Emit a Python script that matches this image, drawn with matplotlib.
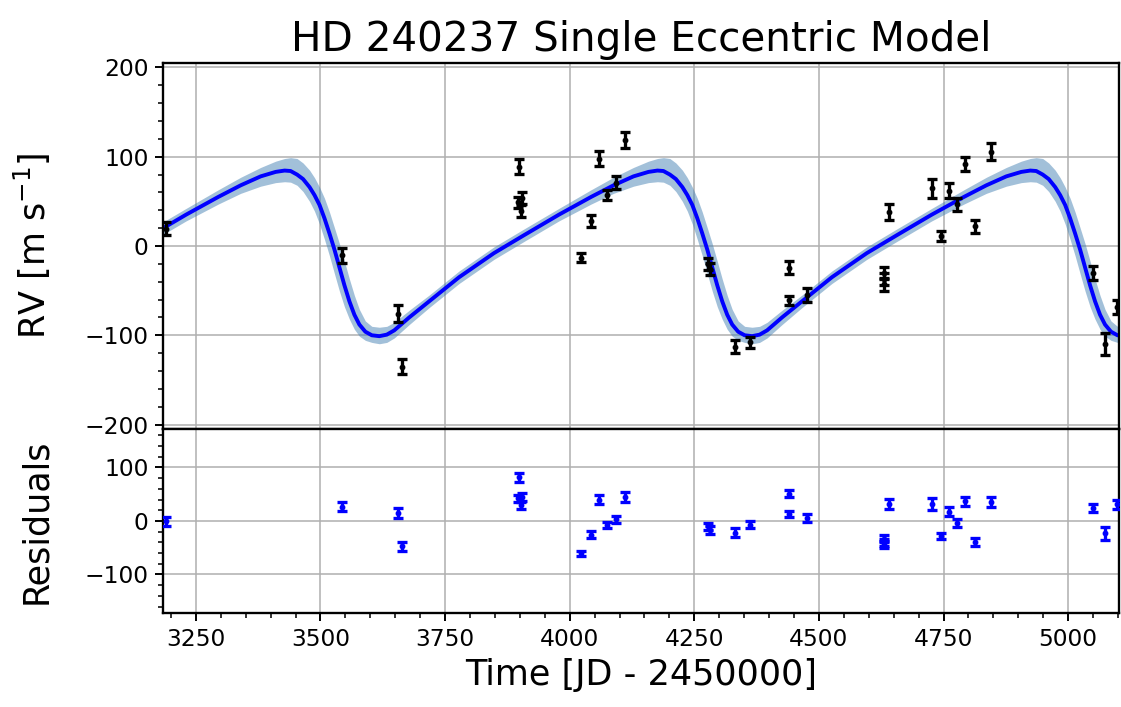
import matplotlib
matplotlib.use("Agg")
import matplotlib.pyplot as plt
from matplotlib.ticker import MultipleLocator, AutoMinorLocator

# model curve (time, rv) plus the shaded band edges
model_t = [3160, 3230, 3295, 3340, 3380, 3410,
           3428, 3440, 3453, 3465, 3478, 3488, 3498, 3508, 3518, 3528, 3538, 3548, 3558, 3568, 3578,
           3590, 3603, 3618, 3633, 3648, 3678, 3718, 3778, 3848, 3908, 3978, 4043, 4088, 4128, 4158,
           4176, 4188, 4201, 4213, 4226, 4236, 4246, 4256, 4266, 4276, 4286, 4296, 4306, 4316, 4326,
           4338, 4351, 4366, 4381, 4396, 4426, 4466, 4526, 4596, 4656, 4726, 4791, 4836, 4876, 4906,
           4924, 4936, 4949, 4961, 4974, 4984, 4994, 5004, 5014, 5024, 5034, 5044, 5054, 5064, 5074,
           5086, 5099, 5114]
model_rv = [12, 35, 55, 68, 78, 83,
            84.5, 84, 80, 75, 66, 57, 46, 31, 14, -4, -24, -44, -62, -77, -88,
            -96, -100, -101, -99.3, -94.5, -80, -62, -35, -8, 12, 35, 55, 68, 78, 83,
            84.5, 84, 80, 75, 66, 57, 46, 31, 14, -4, -24, -44, -62, -77, -88,
            -96, -100, -101, -99.3, -94.5, -80, -62, -35, -8, 12, 35, 55, 68, 78, 83,
            84.5, 84, 80, 75, 66, 57, 46, 31, 14, -4, -24, -44, -62, -77, -88,
            -96, -100, -101]
band_hi = [19, 42, 63, 77, 88, 95,
           98, 99, 98, 93, 85, 76.5, 66, 53.5, 38, 20.4, 2.6, -17, -37, -55.4, -71,
           -84, -90, -91, -90, -85.5, -72, -55, -28, -1, 19, 42, 63, 77, 88, 95,
           98, 99, 98, 93, 85, 76.5, 66, 53.5, 38, 20.4, 2.6, -17, -37, -55.4, -71,
           -84, -90, -91, -90, -85.5, -72, -55, -28, -1, 19, 42, 63, 77, 88, 95,
           98, 99, 98, 93, 85, 76.5, 66, 53.5, 38, 20.4, 2.6, -17, -37, -55.4, -71,
           -84, -90, -91]
band_lo = [5, 28, 47, 59, 67, 71,
           72, 71.5, 68, 61, 50, 39, 24.6, 7.4, -11, -31, -50.6, -68, -82, -93.3, -101,
           -105.7, -108, -109.5, -108, -103, -88, -69, -42, -15, 5, 28, 47, 59, 67, 71,
           72, 71.5, 68, 61, 50, 39, 24.6, 7.4, -11, -31, -50.6, -68, -82, -93.3, -101,
           -105.7, -108, -109.5, -108, -103, -88, -69, -42, -15, 5, 28, 47, 59, 67, 71,
           72, 71.5, 68, 61, 50, 39, 24.6, 7.4, -11, -31, -50.6, -68, -82, -93.3, -101,
           -105.7, -108, -109.5]

# observations
obs_t = [3190, 3544, 3655, 3664, 3898, 3897, 3905, 3903, 4022, 4042, 4058, 4075.6, 4093, 4111,
         4278, 4281, 4332, 4361.7, 4439, 4440.6, 4475.5, 4630, 4631, 4630.5, 4640, 4726.6, 4744,
         4760, 4778, 4793, 4813, 4844.8, 5049.5, 5074, 5097.7]
obs_rv = [19.6, -10.4, -76, -135, 88.8, 49, 54, 39, -13, 27.8, 98, 57, 71, 118.8,
          -20, -26, -112.7, -107.8, -24.3, -61, -54.6, -30, -37, -43, 38.2, 64.5, 11,
          62, 46.5, 91.8, 22, 105.6, -30, -109.7, -68.5]
obs_err = [7.5, 8.4, 9.4, 8.4, 8.4, 6, 7, 7, 4.7, 6.5, 8.6, 6, 7, 9,
           7, 7, 7.5, 6.4, 7, 5.4, 7.7, 7, 7, 7, 9, 11, 5.6,
           8.2, 7.5, 8, 7.5, 9.4, 8, 12.4, 8.2]
resid = [-1, 26.5, 15.4, -47.5, 82, 42, 45, 29, -60.5, -26, 40, -7.4, 3, 45,
         -10, -17, -21.6, -7.4, 51, 13.5, 5, -33, -40, -44, 32, 31, -28,
         17, -4.3, 36.5, -39, 35.7, 24.6, -22.8, 31]


def style_axis(ax):
    ax.grid(True, color="#b0b0b0", linewidth=0.8)
    ax.set_axisbelow(True)
    ax.yaxis.set_minor_locator(AutoMinorLocator())
    ax.tick_params(which="major", labelsize=12, length=4, width=1)
    ax.tick_params(which="minor", length=2.5, width=0.8)
    for s in ax.spines.values():
        s.set_linewidth(1.2)


def make_plot():
    fig = plt.figure(figsize=(1121 / 140, 707 / 140), dpi=140)
    ax1 = fig.add_axes([0.1454, 0.3932, 0.8528, 0.5177])
    ax2 = fig.add_axes([0.1454, 0.1330, 0.8528, 0.2603], sharex=ax1)

    ebar = dict(ms=4, elinewidth=1.7, capsize=2.8, capthick=1.7, zorder=3)
    ax1.fill_between(model_t, band_lo, band_hi, color="steelblue", alpha=0.5, linewidth=0, zorder=1)
    ax1.plot(model_t, model_rv, color="b", linewidth=2, zorder=2)
    ax1.errorbar(obs_t, obs_rv, yerr=obs_err, fmt="k.", **ebar)
    ax2.errorbar(obs_t, resid, yerr=obs_err, fmt="b.", **ebar)

    ax1.set_xlim(3184, 5102)
    ax1.set_ylim(-205, 205)
    ax2.set_ylim(-172, 172)
    ax1.yaxis.set_major_locator(MultipleLocator(100))
    ax2.yaxis.set_major_locator(MultipleLocator(100))
    ax2.xaxis.set_major_locator(MultipleLocator(250))
    ax2.xaxis.set_minor_locator(MultipleLocator(50))

    style_axis(ax1)
    style_axis(ax2)
    ax1.tick_params(axis="x", which="both", labelbottom=False, length=0)

    ax1.set_title("HD 240237 Single Eccentric Model", fontsize=20.8)
    ax1.set_ylabel(r"RV [m s$^{-1}$]", fontsize=18)
    ax2.set_ylabel("Residuals", fontsize=18)
    ax2.set_xlabel("Time [JD - 2450000]", fontsize=18)
    ax1.yaxis.set_label_coords(-0.115, 0.5)
    ax2.yaxis.set_label_coords(-0.115, 0.5)

    fig.savefig("out.png", dpi=140)


if __name__ == "__main__":
    make_plot()
